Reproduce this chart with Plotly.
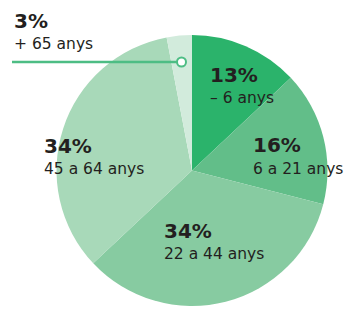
import plotly.graph_objects as go

# Data
age_groups = ["– 6 anys", "6 a 21 anys", "22 a 44 anys", "45 a 64 anys", "+ 65 anys"]
shares = [13, 16, 34, 34, 3]
pct_labels = ["13%", "16%", "34%", "34%", "3%"]
colors = ["#2bb36b", "#62be89", "#87cba1", "#a8d9b9", "#d2ebdc"]

W, H = 346, 310

fig = go.Figure(go.Pie(
    labels=age_groups,
    values=shares,
    sort=False,
    direction="clockwise",
    rotation=0,
    textinfo="none",
    hoverinfo="label+percent",
    marker=dict(colors=colors, line=dict(width=0)),
    domain=dict(x=[56 / W, 328 / W], y=[1 - 306 / H, 1 - 35 / H]),
    showlegend=False,
))

# label placements (pixel positions of left edge / vertical center)
label_pos = {
    "– 6 anys": (208, 75, 98),
    "6 a 21 anys": (251, 145, 169),
    "22 a 44 anys": (162, 231, 254),
    "45 a 64 anys": (42, 146, 169),
    "+ 65 anys": (12, 21, 44),
}

ann = []
for g, p in zip(age_groups, pct_labels):
    x, y1, y2 = label_pos[g]
    ann.append(dict(x=x / W, y=1 - y1 / H, xref="paper", yref="paper",
                    text=f"<b>{p}</b>", showarrow=False, xanchor="left", yanchor="middle",
                    font=dict(family="DejaVu Sans", size=20, color="#231f20")))
    ann.append(dict(x=x / W, y=1 - y2 / H, xref="paper", yref="paper",
                    text=g, showarrow=False, xanchor="left", yanchor="middle",
                    font=dict(family="DejaVu Sans", size=15.5, color="#231f20")))

line_col = "#4dbd84"
shapes = [
    dict(type="line", xref="paper", yref="paper", x0=12 / W, x1=178 / W,
         y0=1 - 62 / H, y1=1 - 62 / H, line=dict(color=line_col, width=2.5)),
    dict(type="circle", xref="paper", yref="paper", x0=177 / W, x1=186 / W,
         y0=1 - 66.5 / H, y1=1 - 57.5 / H, fillcolor="white", line=dict(color=line_col, width=2)),
]

fig.update_layout(
    width=W, height=H,
    margin=dict(l=0, r=0, t=0, b=0),
    paper_bgcolor="white", plot_bgcolor="white",
    annotations=ann, shapes=shapes,
)

fig.write_html("out.html", config={"displayModeBar": False},
               post_script="document.body.style.margin='0';document.body.style.overflow='hidden';")
